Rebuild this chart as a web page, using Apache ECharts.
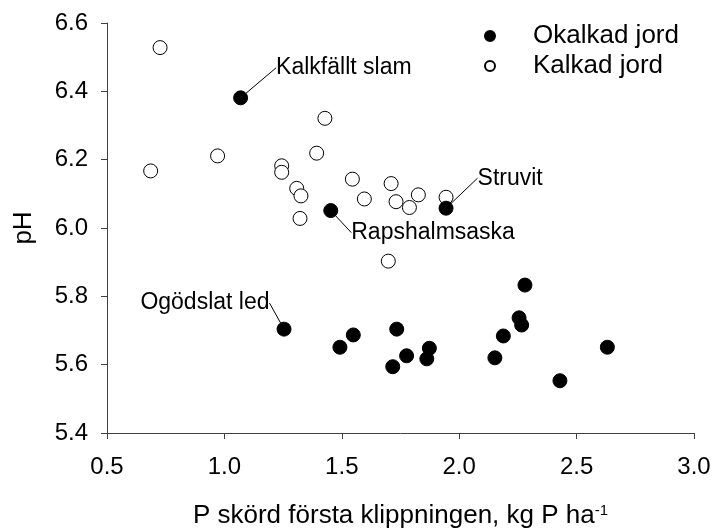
<!DOCTYPE html>
<html>
<head>
<meta charset="utf-8">
<script src="https://cdn.jsdelivr.net/npm/echarts@6/dist/echarts.min.js"></script>
<style>
  body { margin: 0; background: #fff; }
  #main { width: 714px; height: 529px; }
</style>
</head>
<body>
<div id="main"></div>
<script>
// unlimed soil (filled), the first four are annotated
var okalkadX = [1.069, 1.453, 1.944, 1.254, 1.492, 1.549, 1.717, 1.734, 1.776, 1.862, 1.873, 2.152, 2.188, 2.255, 2.266, 2.280, 2.429, 2.631];
var okalkadY = [6.381, 6.051, 6.058, 5.704, 5.651, 5.687, 5.594, 5.704, 5.626, 5.617, 5.648, 5.620, 5.684, 5.737, 5.716, 5.833, 5.553, 5.651];
var okalkadNames = ["Kalkfällt slam", "Rapshalmsaska", "Struvit", "Ogödslat led"];

// limed soil (open)
var kalkadX = [0.726, 0.686, 0.971, 1.244, 1.244, 1.308, 1.326, 1.322, 1.393, 1.428, 1.545, 1.596, 1.710, 1.731, 1.788, 1.826, 1.944, 1.698];
var kalkadY = [6.528, 6.167, 6.211, 6.182, 6.163, 6.116, 6.094, 6.028, 6.219, 6.321, 6.143, 6.085, 6.130, 6.077, 6.060, 6.097, 6.090, 5.903];

var seriesNames = ["Okalkad jord", "Kalkad jord"];
var xTicks = { min: 0.5, max: 3.0, step: 0.5 };
var yTicks = { min: 5.4, max: 6.6, step: 0.2 };

// label offsets (px) for the annotated points
var labelShift = [
  { pos: "right", dx: 23, dy: -30 },
  { pos: "right", dx: 8, dy: 22 },
  { pos: "right", dx: 19, dy: -30 },
  { pos: "left", dx: -2, dy: -26 }
];

var font = "'Liberation Sans', Arial, sans-serif";
var axisColor = "#404040";

var okalkadData = okalkadX.map(function (x, i) {
  var item = { value: [x, okalkadY[i]] };
  if (okalkadNames[i]) {
    item.name = okalkadNames[i];
    item.label = { show: true, position: labelShift[i].pos };
    item.labelLine = { show: true };
  }
  return item;
});
var kalkadData = kalkadX.map(function (x, i) {
  return [x, kalkadY[i]];
});

var myChart = echarts.init(document.getElementById("main"));
myChart.setOption({
  animation: false,
  textStyle: { fontFamily: font },
  grid: { left: 107, right: 20, top: 23, bottom: 96, outerBoundsMode: "none", containLabel: false },
  legend: {
    orient: "vertical",
    left: 479,
    top: 18,
    itemWidth: 10,
    itemHeight: 10,
    itemGap: 4,
    data: seriesNames,
    textStyle: { fontSize: 26, color: "#000", fontFamily: font, padding: [0, 0, 0, 33] }
  },
  xAxis: {
    type: "value",
    min: xTicks.min,
    max: xTicks.max,
    interval: xTicks.step,
    name: "P skörd första klippningen, kg P ha{sup|-1}",
    nameLocation: "middle",
    nameGap: 70,
    nameTextStyle: {
      fontSize: 26,
      color: "#000",
      fontFamily: font,
      rich: { sup: { fontSize: 15, verticalAlign: "top", color: "#000", fontFamily: font } }
    },
    axisLine: { show: true, onZero: false, lineStyle: { color: axisColor, width: 1 } },
    axisTick: { show: true, length: 6, lineStyle: { color: axisColor } },
    axisLabel: {
      fontSize: 24,
      color: "#000",
      margin: 22,
      formatter: function (v) { return v.toFixed(1); }
    },
    splitLine: { show: false }
  },
  yAxis: {
    type: "value",
    min: yTicks.min,
    max: yTicks.max,
    interval: yTicks.step,
    name: "pH",
    nameLocation: "middle",
    nameGap: 70,
    nameTextStyle: { fontSize: 26, color: "#000", fontFamily: font },
    axisLine: { show: true, onZero: false, lineStyle: { color: axisColor, width: 1 } },
    axisTick: { show: true, length: 6, lineStyle: { color: axisColor } },
    axisLabel: {
      fontSize: 24,
      color: "#000",
      margin: 19,
      formatter: function (v) { return v.toFixed(1); }
    },
    splitLine: { show: false }
  },
  series: [
    {
      name: seriesNames[1],
      type: "scatter",
      symbol: "circle",
      symbolSize: 14,
      itemStyle: { color: "#fff", borderColor: "#000", borderWidth: 1, opacity: 1 },
      data: kalkadData,
      z: 2
    },
    {
      name: seriesNames[0],
      type: "scatter",
      symbol: "circle",
      symbolSize: 14,
      itemStyle: { color: "#000", borderColor: "#000", borderWidth: 1, opacity: 1 },
      label: {
        show: false,
        formatter: "{b}",
        fontSize: 23,
        color: "#000",
        fontFamily: font,
        distance: 5
      },
      labelLine: { show: false, lineStyle: { color: "#000", width: 1 } },
      labelLayout: function (params) {
        var s = labelShift[params.dataIndex];
        if (!s) return {};
        return { dx: s.dx, dy: s.dy };
      },
      data: okalkadData,
      z: 3
    }
  ]
});
window.onresize = function () {
  myChart.resize();
};
</script>
</body>
</html>
